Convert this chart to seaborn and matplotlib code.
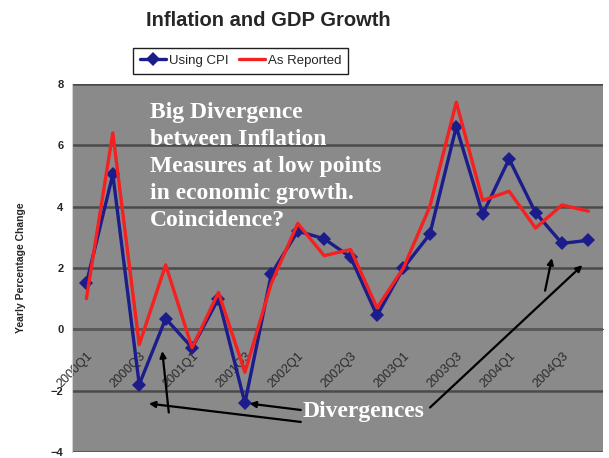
import matplotlib
matplotlib.use("Agg")
import matplotlib.pyplot as plt
import matplotlib.transforms as mtransforms
import seaborn as sns
import pandas as pd
import numpy as np

# quarters 2000Q1 .. 2004Q4
quarters = [f"{y}Q{q}" for y in range(2000, 2005) for q in range(1, 5)]
using_cpi = [1.5, 5.05, -1.8, 0.35, -0.6, 1.0, -2.4, 1.8, 3.2, 2.95,
             2.35, 0.45, 2.0, 3.1, 6.6, 3.75, 5.55, 3.8, 2.8, 2.9]
as_reported = [1.0, 6.4, -0.5, 2.1, -0.6, 1.2, -1.4, 1.5, 3.45, 2.4,
               2.6, 0.7, 2.0, 4.0, 7.4, 4.2, 4.5, 3.3, 4.05, 3.85]
tick_labels = quarters[::2]

df = pd.DataFrame({"idx": range(len(quarters)), "quarter": quarters,
                   "Using CPI": using_cpi, "As Reported": as_reported})

sns.set_style("white")
plt.rcParams['font.family'] = ['Liberation Sans', 'DejaVu Sans']

fig = plt.figure(figsize=(6.09, 4.58), dpi=100)
ax = fig.add_axes([0.118, 0.013, 0.872, 0.804])
ax.set_facecolor("#8a8a8a")

sns.lineplot(data=df, x="idx", y="Using CPI", color="#1c1c8a", marker="D",
             markersize=7.5, markeredgewidth=0, linewidth=2.4, label="Using CPI",
             ax=ax, zorder=2)
sns.lineplot(data=df, x="idx", y="As Reported", color="#f52020",
             linewidth=2.4, label="As Reported", ax=ax, zorder=3)

ax.set_xlim(-0.55, len(quarters) - 0.45)
ax.set_ylim(-4, 8)
ax.set_yticks(range(-4, 9, 2))
ax.yaxis.grid(True, color="#4a4a4a", linewidth=1.8)
ax.set_axisbelow(True)

ax.spines['bottom'].set_position(('data', 0))
ax.spines['bottom'].set_color("#5a5a5a")
ax.spines['bottom'].set_zorder(1)
ax.spines['top'].set_visible(False)
ax.spines['right'].set_visible(False)
ax.spines['left'].set_color("#d0d0d0")

ax.set_xticks(range(0, len(quarters), 2))
ax.set_xticklabels(tick_labels, rotation=45, ha="right", va="top",
                   rotation_mode="anchor", fontsize=9, color="#2a2a2a")
shift = mtransforms.ScaledTranslation(-7 / 100, 0, fig.dpi_scale_trans)
for t in ax.get_xticklabels():
    t.set_transform(t.get_transform() + shift)
ax.set_xticks(np.arange(-0.5, len(quarters), 1), minor=True)
ax.tick_params(axis="x", which="major", length=0, pad=15)
ax.tick_params(axis="x", which="minor", length=4, direction="inout",
               color="#5a5a5a", width=1)
ax.tick_params(axis="y", length=3, direction="out", color="#c0c0c0",
               labelsize=8, pad=3)
for t in ax.get_yticklabels():
    t.set_fontweight("bold")

ax.set_xlabel("")
ax.set_ylabel("Yearly Percentage Change", fontsize=7.5, fontweight="bold",
              labelpad=18)

fig.suptitle("Inflation and GDP Growth", x=0.44, y=0.975, fontsize=14.5,
             fontweight="bold")

handles, labels = ax.get_legend_handles_labels()
ax.legend(handles, labels, loc="center", bbox_to_anchor=(0.318, 1.062),
          ncol=2, frameon=True, fancybox=False, edgecolor="#202020",
          fontsize=9.5, handlelength=2.0, columnspacing=0.8, handletextpad=0.2,
          borderpad=0.5, framealpha=1)

serif = ['Liberation Serif', 'DejaVu Serif']
ax.text(2.4, 7.42, "Big Divergence\nbetween Inflation\nMeasures at low points\n"
        "in economic growth.\nCoincidence?", family=serif, fontweight="bold",
        color="white", fontsize=17, va="top", ha="left", linespacing=1.38)
ax.text(8.2, -2.68, "Divergences", family=serif, fontweight="bold",
        color="white", fontsize=17, va="center", ha="left")

arrow = dict(arrowstyle="-|>", color="black", lw=1.6, mutation_scale=9)
ax.annotate("", xy=(2.26, -2.41), xytext=(8.22, -3.03), arrowprops=arrow)
ax.annotate("", xy=(6.07, -2.41), xytext=(8.22, -2.64), arrowprops=arrow)
ax.annotate("", xy=(2.86, -0.62), xytext=(3.13, -2.8), arrowprops=arrow)
ax.annotate("", xy=(18.85, 2.15), xytext=(12.93, -2.61), arrowprops=arrow)
ax.annotate("", xy=(17.64, 2.41), xytext=(17.34, 1.17), arrowprops=arrow)

fig.savefig("out.png", dpi=100)
